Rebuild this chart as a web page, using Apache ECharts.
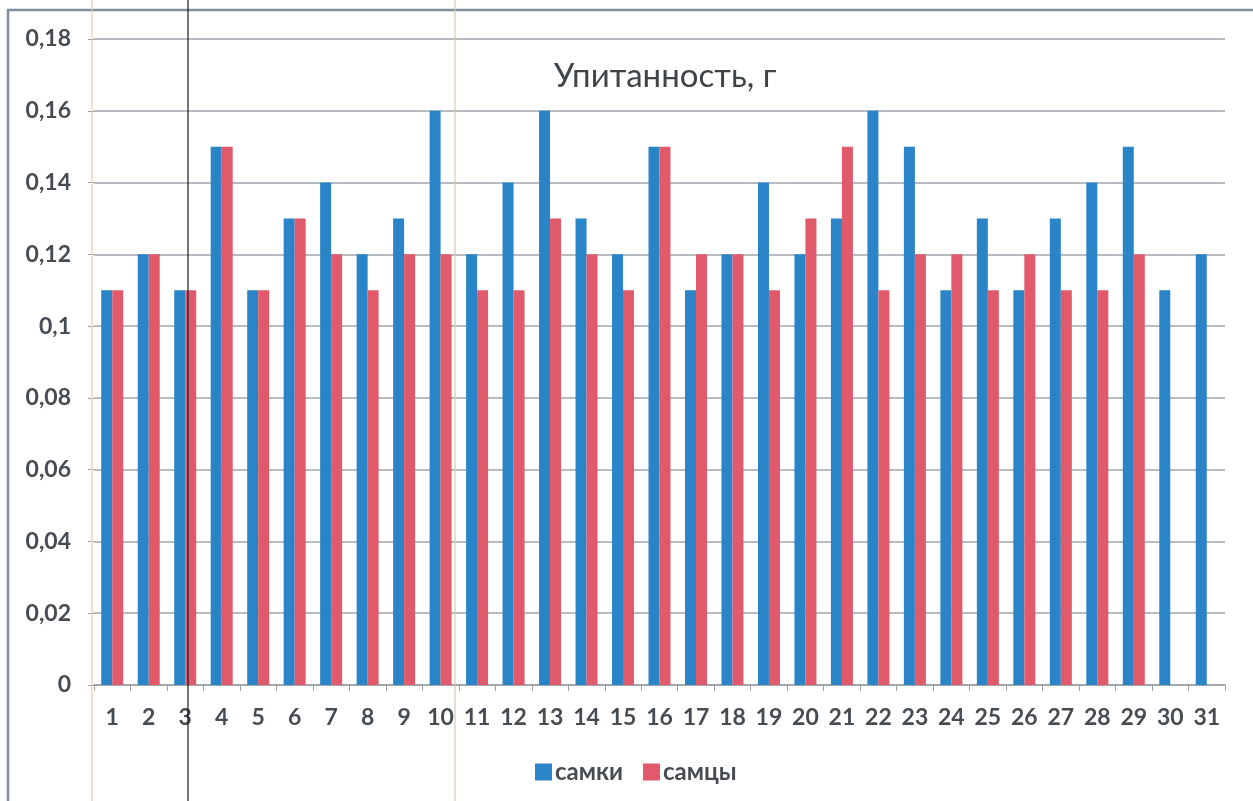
<!DOCTYPE html>
<html>
<head>
<meta charset="utf-8">
<script src="https://cdn.jsdelivr.net/npm/echarts@6/dist/echarts.min.js"></script>
<style>
  html, body { margin: 0; padding: 0; background: #ffffff; }
  #chart { width: 1253px; height: 801px; }
</style>
</head>
<body>
<div id="chart"></div>
<script>
// Sample numbers 1..31
const categories = ['1','2','3','4','5','6','7','8','9','10','11','12','13','14','15','16',
  '17','18','19','20','21','22','23','24','25','26','27','28','29','30','31'];

// Condition (g) per sample
const females = [0.11,0.12,0.11,0.15,0.11,0.13,0.14,0.12,0.13,0.16,0.12,0.14,0.16,0.13,0.12,0.15,
  0.11,0.12,0.14,0.12,0.13,0.16,0.15,0.11,0.13,0.11,0.13,0.14,0.15,0.11,0.12];
const males = [0.11,0.12,0.11,0.15,0.11,0.13,0.12,0.11,0.12,0.12,0.11,0.11,0.13,0.12,0.11,0.15,
  0.12,0.12,0.11,0.13,0.15,0.11,0.12,0.12,0.11,0.12,0.11,0.11,0.12,null,null];

const seriesNames = ['самки', 'самцы'];
const titleText = 'Упитанность, г';

const FONT = 'Lato, "Open Sans", sans-serif';
const TEXT = '#474c52';

const chart = echarts.init(document.getElementById('chart'), null, { renderer: 'canvas' });

chart.setOption({
  backgroundColor: '#ffffff',
  animation: false,
  title: {
    text: titleText,
    left: 660,
    top: 55,
    textAlign: 'center',
    textStyle: { fontFamily: FONT, fontSize: 33, fontWeight: 'normal', color: '#3f4449' }
  },
  legend: {
    data: seriesNames,
    left: 530,
    top: 755,
    itemWidth: 17,
    itemHeight: 17,
    itemGap: 20,
    icon: 'rect',
    textStyle: { fontFamily: FONT, fontSize: 24, fontWeight: 'bold', color: TEXT, padding: [0, 0, 0, -2] }
  },
  grid: { left: 94, right: 28, top: 39, bottom: 116, containLabel: false },
  xAxis: {
    type: 'category',
    data: categories,
    axisLine: { lineStyle: { color: '#9aa0a6', width: 1.5 } },
    axisTick: { show: true, length: 6, alignWithLabel: false, lineStyle: { color: '#9aa0a6' } },
    axisLabel: { fontFamily: FONT, fontSize: 23, fontWeight: 'bold', color: TEXT, margin: 21 },
    splitLine: { show: false }
  },
  yAxis: {
    type: 'value',
    min: 0,
    max: 0.18,
    interval: 0.02,
    axisLine: { show: false },
    axisTick: { show: true, length: 6, lineStyle: { color: '#9aa0a6' } },
    axisLabel: {
      fontFamily: FONT, fontSize: 23, fontWeight: 'bold', color: TEXT, margin: 23,
      formatter: v => String(parseFloat(v.toFixed(2))).replace('.', ',')
    },
    splitLine: { lineStyle: { color: '#9ea6ae', width: 1.5 } }
  },
  series: [
    {
      name: seriesNames[0], type: 'bar', data: females,
      barWidth: 11, barGap: '0%',
      itemStyle: { color: '#2a85c8' }
    },
    {
      name: seriesNames[1], type: 'bar', data: males,
      barWidth: 11, barGap: '0%',
      itemStyle: { color: '#e05a6c' }
    }
  ],
  graphic: [
    // outer frame
    { type: 'rect', silent: true, z: 0,
      shape: { x: 8, y: 10, width: 1260, height: 820 },
      style: { fill: 'none', stroke: '#7f8e9c', lineWidth: 2.5 } },
    // thin vertical rules
    { type: 'line', silent: true, z: 50,
      shape: { x1: 92, y1: 0, x2: 92, y2: 801 },
      style: { stroke: '#e8c9a8', lineWidth: 1.2 } },
    { type: 'line', silent: true, z: 50,
      shape: { x1: 455, y1: 0, x2: 455, y2: 801 },
      style: { stroke: '#d9c9a8', lineWidth: 1.2 } },
    { type: 'line', silent: true, z: 50,
      shape: { x1: 188, y1: 0, x2: 188, y2: 801 },
      style: { stroke: '#1a1a1a', lineWidth: 1.2 } }
  ]
});
</script>
</body>
</html>
